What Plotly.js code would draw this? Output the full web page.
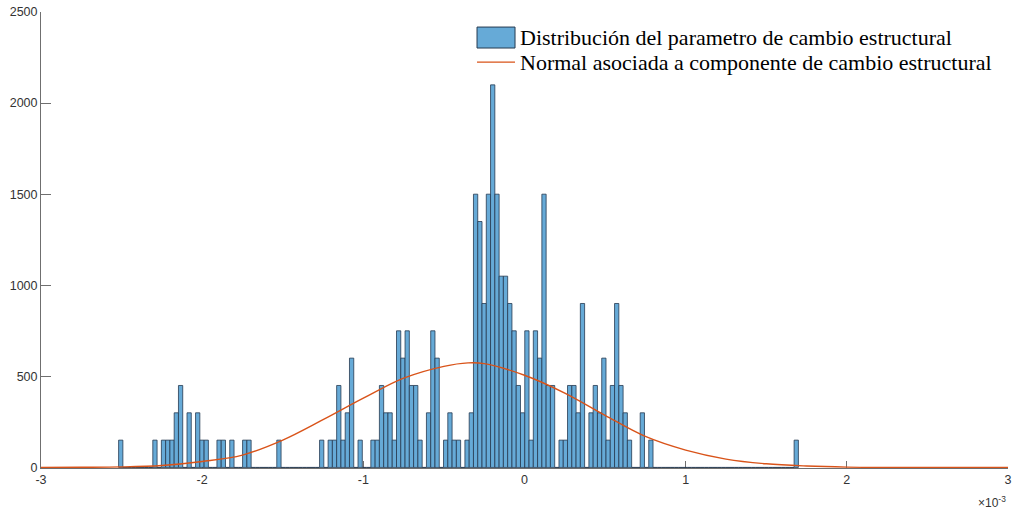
<!DOCTYPE html>
<html>
<head>
<meta charset="utf-8">
<script src="https://cdn.plot.ly/plotly-3.0.1.min.js"></script>
<style>
  html, body { margin: 0; padding: 0; background: #ffffff; }
  #chart { width: 1013px; height: 510px; }
</style>
</head>
<body>
<div id="chart"></div>
<script>
// Histogram: uniform bins starting at binStart with width binWidth (x in real units)
const binStart = -2.5185e-3;
const binWidth = 2.6528e-5;
const counts = [
  150, 0, 0, 0, 0, 0, 0, 0, 150, 0,
  150, 150, 150, 300, 450, 0, 300, 0, 300, 150,
  150, 0, 0, 150, 150, 0, 150, 0, 0, 150,
  150, 0, 0, 0, 0, 0, 0, 150, 0, 0,
  0, 0, 0, 0, 0, 0, 0, 150, 0, 150,
  150, 450, 150, 300, 600, 0, 150, 0, 0, 150,
  150, 450, 300, 300, 150, 750, 600, 750, 450, 450,
  150, 0, 300, 750, 600, 0, 150, 300, 150, 150,
  0, 150, 300, 1500, 1350, 900, 1500, 2100, 1500, 1050,
  1050, 900, 750, 450, 300, 750, 150, 750, 600, 1500,
  450, 450, 0, 150, 150, 450, 450, 300, 900, 0,
  300, 450, 300, 600, 150, 450, 900, 450, 300, 150,
  0, 0, 300, 0, 150, 0, 0, 0, 0, 0,
  0, 0, 0, 0, 0, 0, 0, 0, 0, 0,
  0, 0, 0, 0, 0, 0, 0, 0, 0, 0,
  0, 0, 0, 0, 0, 0, 0, 0, 150
];

// Normal curve (x in units of 1e-3)
const normalX = [-3, -2.75, -2.5, -2.25, -2, -1.75, -1.5, -1.25, -1, -0.75, -0.5, -0.35, -0.25, 0, 0.25, 0.5, 0.75, 1, 1.25, 1.5, 1.75, 2, 2.25, 2.5, 2.75, 3];
const normalY = [0, 1, 3, 11, 33, 68, 150, 262, 380, 490, 555, 574, 570, 506, 408, 286, 170, 95, 46, 20, 8, 2, 0.5, 0, 0, 0];

const xTickVals = [-3, -2, -1, 0, 1, 2, 3];
const xTickText = ['-3', '-2', '-1', '0', '1', '2', '3'];
const yTickVals = [0, 500, 1000, 1500, 2000, 2500];

const legendHist = 'Distribución del parametro de cambio estructural';
const legendNormal = 'Normal asociada a componente de cambio estructural';

const barX = counts.map((c, i) => binStart + (i + 0.5) * binWidth);

const traces = [
  {
    type: 'bar',
    x: barX,
    y: counts,
    width: binWidth,
    name: legendHist,
    marker: { color: 'rgb(102,170,215)', line: { color: 'rgb(38,58,80)', width: 0.8 } },
    showlegend: false,
    hoverinfo: 'x+y'
  },
  {
    type: 'scatter',
    mode: 'lines',
    x: normalX.map(v => v * 1e-3),
    y: normalY,
    name: legendNormal,
    line: { color: 'rgb(217,83,25)', width: 1.4, shape: 'spline', smoothing: 1 },
    cliponaxis: false,
    showlegend: false
  }
];

const axisColor = '#6f6f6f';
const tickFont = { family: 'Liberation Sans, Arial, sans-serif', size: 12.5, color: '#333333' };

const layout = {
  width: 1013,
  height: 510,
  margin: { l: 41, r: 5, t: 12, b: 42 },
  paper_bgcolor: '#ffffff',
  plot_bgcolor: '#ffffff',
  bargap: 0,
  showlegend: false,
  xaxis: {
    range: [-3e-3, 3e-3],
    tickvals: xTickVals.map(v => v * 1e-3),
    ticktext: xTickText,
    ticks: 'inside',
    ticklen: 7,
    tickcolor: axisColor,
    showline: true,
    linecolor: axisColor,
    linewidth: 1,
    showgrid: false,
    zeroline: false,
    layer: 'below traces',
    tickfont: tickFont
  },
  yaxis: {
    range: [-3, 2500],
    tickvals: yTickVals,
    ticks: 'inside',
    ticklen: 10,
    tickcolor: axisColor,
    showline: true,
    linecolor: axisColor,
    linewidth: 1,
    showgrid: false,
    zeroline: false,
    layer: 'below traces',
    tickfont: tickFont
  },
  shapes: [
    { type: 'rect', xref: 'paper', yref: 'paper', x0: 0.4509, x1: 0.4902, y0: 0.921, y1: 0.967,
      fillcolor: 'rgb(102,170,215)', line: { color: 'rgb(38,58,80)', width: 1 } },
    { type: 'line', xref: 'paper', yref: 'paper', x0: 0.4509, x1: 0.4902, y0: 0.890, y1: 0.890,
      line: { color: 'rgb(217,83,25)', width: 1.4 } }
  ],
  annotations: [
    { xref: 'paper', yref: 'paper', x: 0.4930, y: 0.944, xanchor: 'left', yanchor: 'middle', showarrow: false,
      text: legendHist, font: { family: 'Liberation Serif, Times New Roman, serif', size: 22, color: '#000000' } },
    { xref: 'paper', yref: 'paper', x: 0.4930, y: 0.890, xanchor: 'left', yanchor: 'middle', showarrow: false,
      text: legendNormal, font: { family: 'Liberation Serif, Times New Roman, serif', size: 22, color: '#000000' } },
    { xref: 'paper', yref: 'paper', x: 1.0, y: -0.052, xanchor: 'right', yanchor: 'top', showarrow: false,
      text: '×10<sup>-3</sup>', font: { family: 'Liberation Sans, Arial, sans-serif', size: 12, color: '#333333' } }
  ]
};

Plotly.newPlot('chart', traces, layout, { staticPlot: true, displayModeBar: false });
</script>
</body>
</html>
